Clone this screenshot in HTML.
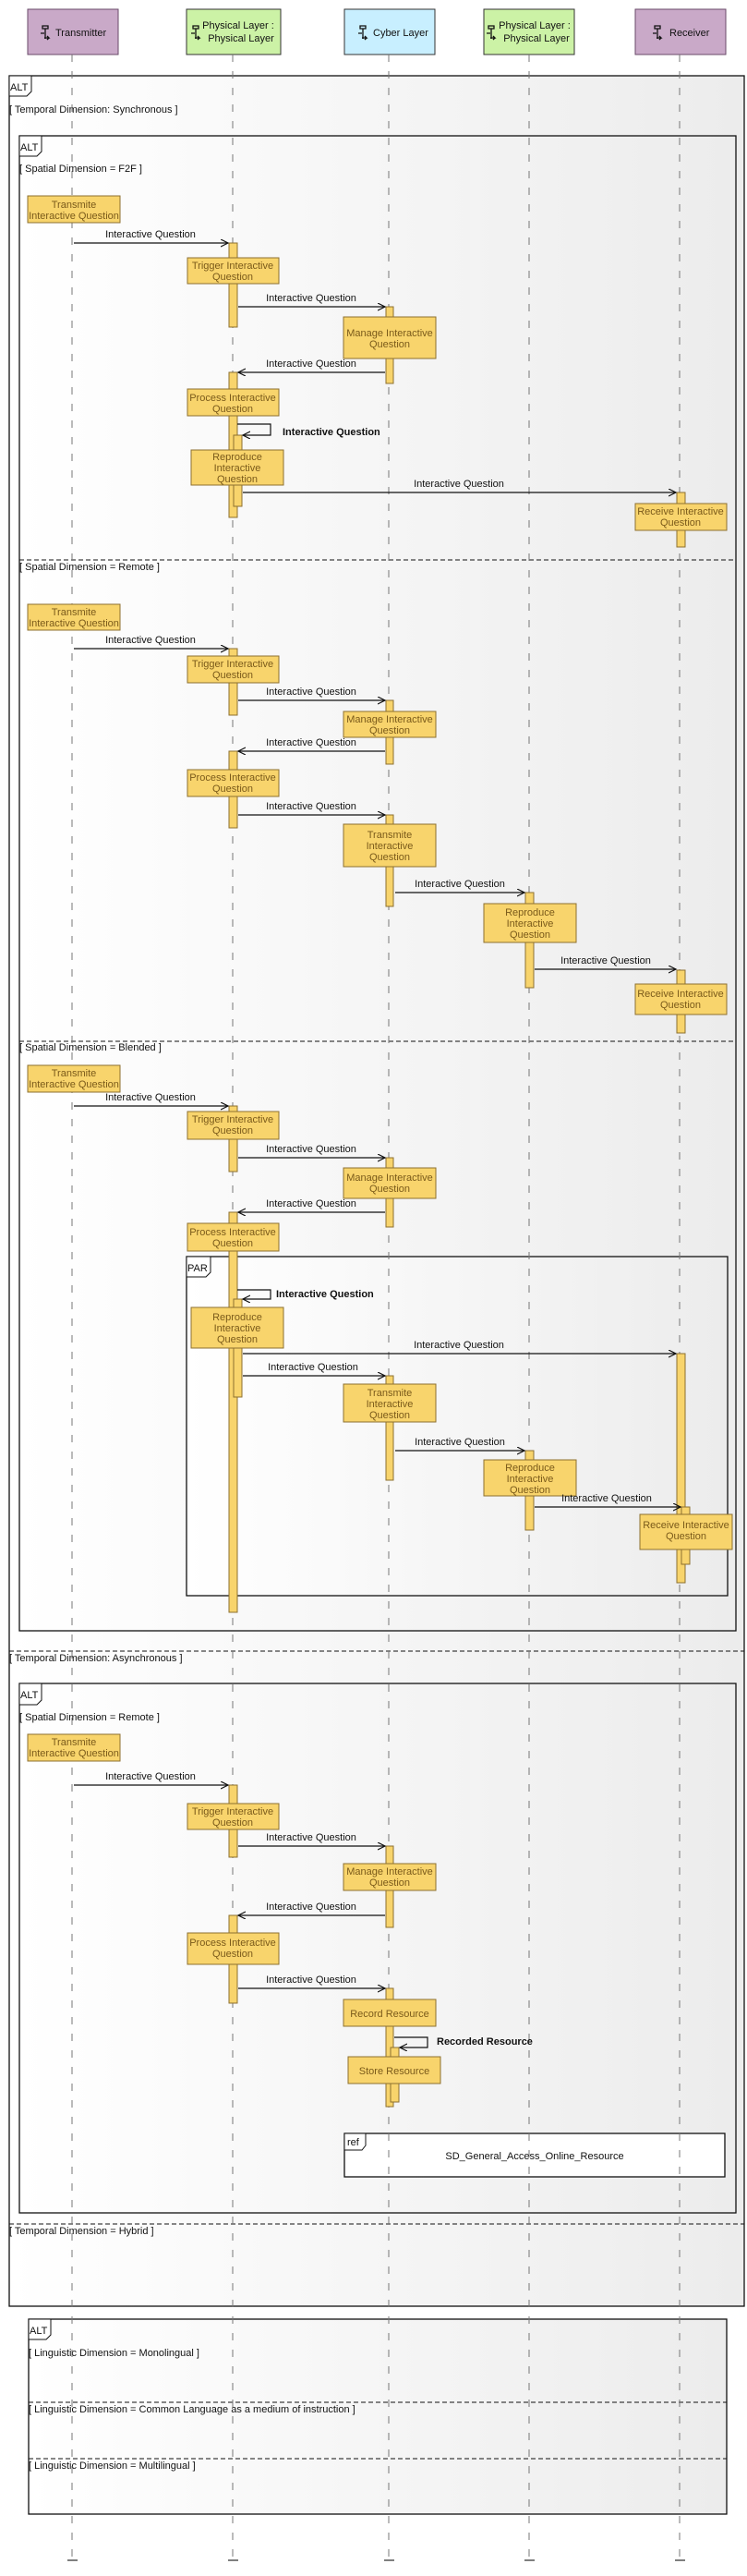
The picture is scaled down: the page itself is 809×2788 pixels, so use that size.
<!DOCTYPE html>
<html><head><meta charset="utf-8"><style>
html,body{margin:0;padding:0;background:#fff;}
svg{display:block;}
text{font-family:"Liberation Sans",sans-serif;font-size:11px;}
.bt{fill:#7a5a1a;text-anchor:middle;font-size:11px;}
.lb{fill:#111;text-anchor:middle;}
.gd{fill:#111;}
</style></head><body>
<svg width="809" height="2788" viewBox="0 0 809 2788" xmlns="http://www.w3.org/2000/svg">
<defs>
<linearGradient id="g" x1="0" y1="0" x2="1" y2="0"><stop offset="0" stop-color="#ffffff"/><stop offset="1" stop-color="#ececec"/></linearGradient>
<marker id="a" markerWidth="10" markerHeight="10" refX="8" refY="4" orient="auto" markerUnits="userSpaceOnUse"><path d="M0,0 L8,4 L0,8" fill="none" stroke="#111" stroke-width="1.2"/></marker>
</defs>

<!-- Header boxes -->
<g stroke-width="1">
<rect x="30" y="10" width="98" height="49" fill="#c9a9c8" stroke="#6a4a6a"/>
<rect x="202" y="10" width="102" height="49" fill="#ccf2a6" stroke="#333"/>
<rect x="373" y="10" width="98" height="49" fill="#c8efff" stroke="#333"/>
<rect x="524" y="10" width="98" height="49" fill="#ccf2a6" stroke="#333"/>
<rect x="688" y="10" width="98" height="49" fill="#c9a9c8" stroke="#6a4a6a"/>
</g>
<g stroke="#111" stroke-width="1.3" fill="none">
<path d="M46,28 h6 v3 h-6z M49,31 v11 M44,36 h4 M48,41 h5 l-2,-2 M53,41 l-2,2"/>
<path d="M209,28 h6 v3 h-6z M212,31 v11 M207,36 h4 M211,41 h5 l-2,-2 M216,41 l-2,2"/>
<path d="M390,28 h6 v3 h-6z M393,31 v11 M388,36 h4 M392,41 h5 l-2,-2 M397,41 l-2,2"/>
<path d="M529,28 h6 v3 h-6z M532,31 v11 M527,36 h4 M531,41 h5 l-2,-2 M536,41 l-2,2"/>
<path d="M709,28 h6 v3 h-6z M712,31 v11 M707,36 h4 M711,41 h5 l-2,-2 M716,41 l-2,2"/>
</g>
<text x="60" y="39" class="gd" font-size="12">Transmitter</text>
<text x="258" y="31" class="lb" font-size="12">Physical Layer :</text>
<text x="261" y="45" class="lb" font-size="12">Physical Layer</text>
<text x="404" y="39" class="gd" font-size="12">Cyber Layer</text>
<text x="579" y="31" class="lb" font-size="12">Physical Layer :</text>
<text x="581" y="45" class="lb" font-size="12">Physical Layer</text>
<text x="725" y="39" class="gd" font-size="12">Receiver</text>

<!-- Frames -->
<g stroke="#111" stroke-width="1.3">
<rect x="10" y="82" width="796" height="2414" fill="url(#g)"/>
<rect x="21" y="147" width="776" height="1618" fill="url(#g)"/>
<rect x="202" y="1360" width="586" height="367" fill="url(#g)"/>
<rect x="21" y="1822" width="776" height="573" fill="url(#g)"/>
<rect x="31" y="2510" width="756" height="211" fill="url(#g)"/>
</g>
<g stroke="#111" stroke-width="1" fill="#fff">
<path d="M10,82 H34 V99 L29,104 H10Z"/>
<path d="M21,147 H45 V164 L40,169 H21Z"/>
<path d="M202,1360 H228 V1377 L223,1382 H202Z"/>
<path d="M21,1822 H45 V1840 L40,1845 H21Z"/>
<path d="M31,2510 H55 V2527 L50,2532 H31Z"/>
</g>
<text x="11" y="98" class="gd">ALT</text>
<text x="22" y="163" class="gd">ALT</text>
<text x="203" y="1376" class="gd">PAR</text>
<text x="22" y="1838" class="gd">ALT</text>
<text x="32" y="2526" class="gd">ALT</text>

<g stroke="#111" stroke-width="1" stroke-dasharray="5,3">
<line x1="21" y1="606" x2="797" y2="606"/>
<line x1="21" y1="1127" x2="797" y2="1127"/>
<line x1="10" y1="1787" x2="806" y2="1787"/>
<line x1="10" y1="2407" x2="806" y2="2407"/>
<line x1="31" y1="2600" x2="787" y2="2600"/>
<line x1="31" y1="2661" x2="787" y2="2661"/>
</g>
<text x="10" y="122" class="gd">[ Temporal Dimension: Synchronous ]</text>
<text x="21" y="186" class="gd">[ Spatial Dimension = F2F ]</text>
<text x="21" y="617" class="gd">[ Spatial Dimension = Remote ]</text>
<text x="21" y="1137" class="gd">[ Spatial Dimension = Blended ]</text>
<text x="10" y="1798" class="gd">[ Temporal Dimension: Asynchronous ]</text>
<text x="21" y="1862" class="gd">[ Spatial Dimension = Remote ]</text>
<text x="10" y="2418" class="gd">[ Temporal Dimension = Hybrid ]</text>
<text x="31" y="2550" class="gd">[ Linguistic Dimension = Monolingual ]</text>
<text x="31" y="2611" class="gd">[ Linguistic Dimension = Common Language as a medium of instruction ]</text>
<text x="31" y="2672" class="gd">[ Linguistic Dimension = Multilingual ]</text>

<!-- ref -->
<rect x="373" y="2309" width="412" height="47" fill="#fff" stroke="#111" stroke-width="1.3"/>
<path d="M373,2309 H396 V2322 L392,2327 H373Z" fill="#fff" stroke="#111"/>
<text x="376" y="2322" class="gd">ref</text>
<text x="579" y="2337" class="lb">SD_General_Access_Online_Resource</text>

<!-- Lifelines -->
<g stroke="#777" stroke-width="1" stroke-dasharray="8,10">
<line x1="78" y1="59" x2="78" y2="2771"/>
<line x1="252" y1="59" x2="252" y2="2771"/>
<line x1="421" y1="59" x2="421" y2="2771"/>
<line x1="573" y1="59" x2="573" y2="2771"/>
<line x1="736" y1="59" x2="736" y2="2771"/>
</g>
<g stroke="#555" stroke-width="1.5">
<line x1="73" y1="2771" x2="84" y2="2771"/>
<line x1="247" y1="2771" x2="258" y2="2771"/>
<line x1="416" y1="2771" x2="427" y2="2771"/>
<line x1="568" y1="2771" x2="579" y2="2771"/>
<line x1="731" y1="2771" x2="742" y2="2771"/>
</g>

<!-- Activations -->
<g fill="#f8d46c" stroke="#8d7030" stroke-width="1">
<rect x="248" y="263" width="9" height="91"/>
<rect x="418" y="332" width="8" height="83"/>
<rect x="248" y="403" width="9" height="157"/>
<rect x="253" y="471" width="9" height="77"/>
<rect x="733" y="533" width="9" height="59"/>

<rect x="248" y="702" width="9" height="72"/>
<rect x="418" y="758" width="8" height="69"/>
<rect x="248" y="813" width="9" height="83"/>
<rect x="418" y="882" width="8" height="99"/>
<rect x="569" y="966" width="9" height="103"/>
<rect x="733" y="1050" width="9" height="68"/>

<rect x="248" y="1197" width="9" height="71"/>
<rect x="418" y="1253" width="8" height="75"/>
<rect x="248" y="1312" width="9" height="433"/>
<rect x="253" y="1406" width="9" height="106"/>
<rect x="733" y="1465" width="9" height="248"/>
<rect x="418" y="1489" width="8" height="113"/>
<rect x="569" y="1570" width="9" height="86"/>
<rect x="738" y="1631" width="9" height="62"/>

<rect x="248" y="1932" width="9" height="78"/>
<rect x="418" y="1998" width="8" height="88"/>
<rect x="248" y="2073" width="9" height="95"/>
<rect x="418" y="2152" width="8" height="128"/>
<rect x="423" y="2216" width="9" height="59"/>
</g>

<!-- Action boxes -->
<g fill="#f8d46c" stroke="#8d7030" stroke-width="1">
<rect x="30" y="212" width="100" height="29"/>
<rect x="203" y="279" width="99" height="28"/>
<rect x="372" y="343" width="100" height="45"/>
<rect x="203" y="421" width="99" height="29"/>
<rect x="207" y="487" width="100" height="38"/>
<rect x="688" y="545" width="99" height="29"/>

<rect x="30" y="654" width="100" height="28"/>
<rect x="203" y="710" width="99" height="29"/>
<rect x="372" y="770" width="100" height="28"/>
<rect x="203" y="833" width="99" height="29"/>
<rect x="372" y="892" width="100" height="46"/>
<rect x="524" y="978" width="100" height="42"/>
<rect x="688" y="1065" width="99" height="33"/>

<rect x="30" y="1153" width="100" height="29"/>
<rect x="203" y="1203" width="99" height="30"/>
<rect x="372" y="1264" width="100" height="33"/>
<rect x="203" y="1324" width="99" height="30"/>
<rect x="207" y="1415" width="100" height="44"/>
<rect x="372" y="1498" width="100" height="41"/>
<rect x="524" y="1580" width="100" height="39"/>
<rect x="693" y="1639" width="100" height="38"/>

<rect x="30" y="1877" width="100" height="29"/>
<rect x="203" y="1952" width="99" height="28"/>
<rect x="372" y="2017" width="100" height="29"/>
<rect x="203" y="2092" width="99" height="34"/>
<rect x="372" y="2164" width="100" height="29"/>
<rect x="377" y="2226" width="100" height="29"/>
</g>

<g class="bt">
<text class="bt" x="80" y="225">Transmite</text><text class="bt" x="80" y="237">Interactive Question</text>
<text class="bt" x="252" y="291">Trigger Interactive</text><text class="bt" x="252" y="303">Question</text>
<text class="bt" x="422" y="364">Manage Interactive</text><text class="bt" x="422" y="376">Question</text>
<text class="bt" x="252" y="434">Process Interactive</text><text class="bt" x="252" y="446">Question</text>
<text class="bt" x="257" y="498">Reproduce</text><text class="bt" x="257" y="510">Interactive</text><text class="bt" x="257" y="522">Question</text>
<text class="bt" x="737" y="557">Receive Interactive</text><text class="bt" x="737" y="569">Question</text>

<text class="bt" x="80" y="666">Transmite</text><text class="bt" x="80" y="678">Interactive Question</text>
<text class="bt" x="252" y="722">Trigger Interactive</text><text class="bt" x="252" y="734">Question</text>
<text class="bt" x="422" y="782">Manage Interactive</text><text class="bt" x="422" y="794">Question</text>
<text class="bt" x="252" y="845">Process Interactive</text><text class="bt" x="252" y="857">Question</text>
<text class="bt" x="422" y="907">Transmite</text><text class="bt" x="422" y="919">Interactive</text><text class="bt" x="422" y="931">Question</text>
<text class="bt" x="574" y="991">Reproduce</text><text class="bt" x="574" y="1003">Interactive</text><text class="bt" x="574" y="1015">Question</text>
<text class="bt" x="737" y="1079">Receive Interactive</text><text class="bt" x="737" y="1091">Question</text>

<text class="bt" x="80" y="1165">Transmite</text><text class="bt" x="80" y="1177">Interactive Question</text>
<text class="bt" x="252" y="1215">Trigger Interactive</text><text class="bt" x="252" y="1227">Question</text>
<text class="bt" x="422" y="1278">Manage Interactive</text><text class="bt" x="422" y="1290">Question</text>
<text class="bt" x="252" y="1337">Process Interactive</text><text class="bt" x="252" y="1349">Question</text>
<text class="bt" x="257" y="1429">Reproduce</text><text class="bt" x="257" y="1441">Interactive</text><text class="bt" x="257" y="1453">Question</text>
<text class="bt" x="422" y="1511">Transmite</text><text class="bt" x="422" y="1523">Interactive</text><text class="bt" x="422" y="1535">Question</text>
<text class="bt" x="574" y="1592">Reproduce</text><text class="bt" x="574" y="1604">Interactive</text><text class="bt" x="574" y="1616">Question</text>
<text class="bt" x="743" y="1654">Receive Interactive</text><text class="bt" x="743" y="1666">Question</text>

<text class="bt" x="80" y="1889">Transmite</text><text class="bt" x="80" y="1901">Interactive Question</text>
<text class="bt" x="252" y="1964">Trigger Interactive</text><text class="bt" x="252" y="1976">Question</text>
<text class="bt" x="422" y="2029">Manage Interactive</text><text class="bt" x="422" y="2041">Question</text>
<text class="bt" x="252" y="2106">Process Interactive</text><text class="bt" x="252" y="2118">Question</text>
<text class="bt" x="422" y="2183">Record Resource</text>
<text class="bt" x="427" y="2245">Store Resource</text>
</g>

<!-- Messages -->
<g stroke="#111" stroke-width="1.2" fill="none" marker-end="url(#a)">
<line x1="80" y1="263" x2="247" y2="263"/>
<line x1="258" y1="332" x2="417" y2="332"/>
<line x1="417" y1="403" x2="258" y2="403"/>
<path d="M257,459 H293 V471 H263"/>
<line x1="263" y1="533" x2="732" y2="533"/>

<line x1="80" y1="702" x2="247" y2="702"/>
<line x1="258" y1="758" x2="417" y2="758"/>
<line x1="417" y1="813" x2="258" y2="813"/>
<line x1="258" y1="882" x2="417" y2="882"/>
<line x1="428" y1="966" x2="568" y2="966"/>
<line x1="579" y1="1049" x2="732" y2="1049"/>

<line x1="80" y1="1197" x2="247" y2="1197"/>
<line x1="258" y1="1253" x2="417" y2="1253"/>
<line x1="417" y1="1312" x2="258" y2="1312"/>
<path d="M257,1396 H293 V1406 H263"/>
<line x1="263" y1="1465" x2="732" y2="1465"/>
<line x1="263" y1="1489" x2="417" y2="1489"/>
<line x1="428" y1="1570" x2="568" y2="1570"/>
<line x1="579" y1="1631" x2="737" y2="1631"/>

<line x1="80" y1="1932" x2="247" y2="1932"/>
<line x1="258" y1="1998" x2="417" y2="1998"/>
<line x1="417" y1="2073" x2="258" y2="2073"/>
<line x1="258" y1="2152" x2="417" y2="2152"/>
<path d="M427,2205 H463 V2216 H433"/>
</g>

<g>
<text class="lb" x="163" y="257">Interactive Question</text>
<text class="lb" x="337" y="326">Interactive Question</text>
<text class="lb" x="337" y="397">Interactive Question</text>
<text class="gd" x="306" y="471" font-weight="bold" font-size="10.5">Interactive Question</text>
<text class="lb" x="497" y="527">Interactive Question</text>

<text class="lb" x="163" y="696">Interactive Question</text>
<text class="lb" x="337" y="752">Interactive Question</text>
<text class="lb" x="337" y="807">Interactive Question</text>
<text class="lb" x="337" y="876">Interactive Question</text>
<text class="lb" x="498" y="960">Interactive Question</text>
<text class="lb" x="656" y="1043">Interactive Question</text>

<text class="lb" x="163" y="1191">Interactive Question</text>
<text class="lb" x="337" y="1247">Interactive Question</text>
<text class="lb" x="337" y="1306">Interactive Question</text>
<text class="gd" x="299" y="1404" font-weight="bold" font-size="10.5">Interactive Question</text>
<text class="lb" x="497" y="1459">Interactive Question</text>
<text class="lb" x="339" y="1483">Interactive Question</text>
<text class="lb" x="498" y="1564">Interactive Question</text>
<text class="lb" x="657" y="1625">Interactive Question</text>

<text class="lb" x="163" y="1926">Interactive Question</text>
<text class="lb" x="337" y="1992">Interactive Question</text>
<text class="lb" x="337" y="2067">Interactive Question</text>
<text class="lb" x="337" y="2146">Interactive Question</text>
<text class="gd" x="473" y="2213" font-weight="bold" font-size="10.5">Recorded Resource</text>
</g>
</svg>
</body></html>
